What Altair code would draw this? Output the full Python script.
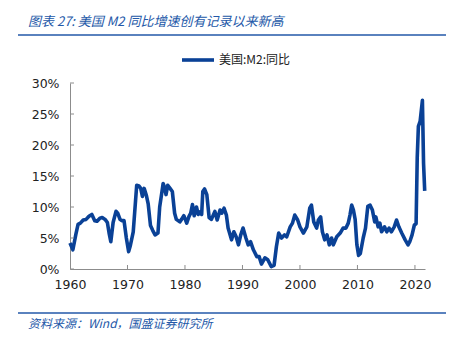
import altair as alt
import pandas as pd

# ---- data ----
years = [1960.0, 1960.5, 1961.0, 1961.4, 1961.8, 1962.3, 1962.8, 1963.3, 1963.8, 1964.3,
         1964.7, 1965.2, 1965.6, 1966.1, 1966.5, 1966.8, 1967.1, 1967.5, 1968.0, 1968.3,
         1968.7, 1969.0, 1969.4, 1969.8, 1970.2, 1970.5, 1971.0, 1971.4, 1971.6, 1972.0,
         1972.3, 1972.6, 1972.9, 1973.3, 1973.6, 1974.0, 1974.4, 1974.8, 1975.3, 1975.6,
         1976.0, 1976.2, 1976.5, 1976.7, 1977.0, 1977.4, 1977.8, 1978.2, 1978.5, 1979.1,
         1979.4, 1979.8, 1980.3, 1980.7, 1981.0, 1981.3, 1981.6, 1982.0, 1982.3, 1982.6,
         1982.9, 1983.1, 1983.4, 1983.8, 1984.2, 1984.6, 1985.2, 1985.6, 1986.1, 1986.4,
         1986.8, 1987.2, 1987.5, 1988.1, 1988.5, 1988.9, 1989.3, 1989.7, 1990.1, 1990.6,
         1991.0, 1991.4, 1991.9, 1992.5, 1992.9, 1993.3, 1993.9, 1994.4, 1995.0, 1995.5,
         1995.9, 1996.3, 1996.8, 1997.3, 1997.7, 1998.3, 1998.7, 1999.1, 1999.6, 2000.0,
         2000.6, 2001.2, 2001.7, 2002.0, 2002.4, 2002.9, 2003.2, 2003.6, 2003.9, 2004.3,
         2004.7, 2005.1, 2005.5, 2005.8, 2006.4, 2007.0, 2007.5, 2008.0, 2008.4, 2008.7,
         2009.0, 2009.3, 2009.6, 2009.9, 2010.2, 2010.5, 2011.0, 2011.4, 2011.8, 2012.2,
         2012.6, 2013.0, 2013.2, 2013.6, 2013.9, 2014.2, 2014.7, 2015.1, 2015.5, 2015.9,
         2016.4, 2016.8, 2017.2, 2017.7, 2018.3, 2018.8, 2019.1, 2019.5, 2019.9, 2020.2,
         2020.4, 2020.6, 2020.9, 2021.1, 2021.3, 2021.5, 2021.7]
m2_yoy = [4.2, 3.1, 5.5, 7.2, 7.4, 7.9, 8.0, 8.5, 8.8, 7.8,
          7.7, 8.2, 8.3, 8.0, 7.5, 5.8, 4.4, 7.5, 9.3, 9.0,
          8.0, 7.8, 7.8, 5.0, 2.8, 3.8, 6.0, 11.0, 13.5, 13.4,
          13.0, 11.7, 13.0, 11.8, 10.5, 7.0, 6.2, 5.5, 5.8, 10.0,
          12.5, 13.8, 13.0, 12.0, 13.5, 13.0, 12.5, 9.0, 8.0, 7.6,
          8.0, 8.6, 7.4, 8.5, 9.0, 10.4, 8.6, 10.0, 8.8, 9.2,
          8.8, 12.5, 12.9, 12.0, 8.3, 8.0, 9.3, 7.9, 9.5, 9.0,
          9.8, 8.7, 6.6, 4.7, 6.0, 5.2, 3.9, 5.5, 6.6, 5.0,
          3.9, 4.4, 3.1, 2.0, 2.0, 0.8, 1.8, 1.5, 0.4, 0.6,
          3.6, 5.8, 5.0, 5.5, 5.2, 6.8, 7.4, 8.7, 7.9, 6.8,
          5.8, 6.8, 9.8, 10.3, 7.6, 6.6, 7.9, 8.4, 6.0, 4.7,
          5.5, 3.9, 5.0, 3.9, 5.2, 5.8, 6.6, 6.6, 7.4, 8.7,
          10.3, 9.5, 8.0, 3.9, 2.2, 2.5, 5.0, 6.6, 10.1, 10.3,
          9.5, 7.6, 8.4, 6.8, 7.4, 6.0, 6.8, 6.0, 6.6, 6.0,
          6.8, 7.9, 6.8, 5.8, 4.7, 3.9, 4.4, 5.5, 7.1, 7.3,
          18.0, 23.0, 23.8, 25.5, 27.2, 17.0, 12.6]

x_ticks = [1960, 1970, 1980, 1990, 2000, 2010, 2020]
y_ticks = [0, 5, 10, 15, 20, 25, 30]
series_name = "美国:M2:同比"
title_text = "图表 27:  美国 M2 同比增速创有记录以来新高"
source_text = "资料来源：Wind，国盛证券研究所"

W, H = 355, 186
LINE_COLOR = "#0a4196"
BLUE = "#2358a8"
AXIS_GRAY = "#8c8c8c"

df = pd.DataFrame({"year": years, "value": m2_yoy})
xscale = alt.Scale(domain=[1960, 2021.75], nice=False, zero=False)
yscale = alt.Scale(domain=[0, 30], nice=False)

xaxis = alt.Axis(values=x_ticks, format="d", title=None, grid=False, ticks=False,
                 domainColor=AXIS_GRAY, domainWidth=1, labelPadding=9,
                 labelFontSize=12.5, labelFont="DejaVu Sans", labelColor="#222222",
                 labelFlush=False, labelOverlap=False)
yaxis = alt.Axis(values=y_ticks, labelExpr="datum.value + '%'", title=None, grid=False,
                 ticks=False, domainColor=AXIS_GRAY, domainWidth=1, labelPadding=11,
                 labelFontSize=12.5, labelFont="DejaVu Sans", labelColor="#222222",
                 labelOverlap=False, labelFlush=False, labelBound=False)

line = alt.Chart(df).mark_line(color=LINE_COLOR, strokeWidth=3.6, strokeJoin="round").encode(
    x=alt.X("year:Q", scale=xscale, axis=xaxis),
    y=alt.Y("value:Q", scale=yscale, axis=yaxis),
)

xt = alt.Chart(pd.DataFrame({"t": x_ticks[1:]})).mark_rule(color=AXIS_GRAY, strokeWidth=1).encode(
    x=alt.X("t:Q", scale=xscale, axis=xaxis), y=alt.value(H), y2=alt.value(H - 4))
yt = alt.Chart(pd.DataFrame({"t": y_ticks})).mark_rule(color=AXIS_GRAY, strokeWidth=1).encode(
    y=alt.Y("t:Q", scale=yscale, axis=yaxis), x=alt.value(0), x2=alt.value(4))

title = alt.Chart(pd.DataFrame({"s": [title_text]})).mark_text(
    align="left", baseline="middle", font="Noto Sans CJK SC", fontStyle="italic",
    fontSize=13, fontWeight="normal", color=BLUE).encode(text="s:N", x=alt.value(-42), y=alt.value(-61))
top_rule = alt.Chart(pd.DataFrame({"a": [0]})).mark_rule(color=BLUE, strokeWidth=1.6).encode(
    x=alt.value(-52), x2=alt.value(376), y=alt.value(-48))
bot_rule = alt.Chart(pd.DataFrame({"a": [0]})).mark_rule(color=BLUE, strokeWidth=1.6).encode(
    x=alt.value(-52), x2=alt.value(376), y=alt.value(230))
source = alt.Chart(pd.DataFrame({"s": [source_text]})).mark_text(
    align="left", baseline="middle", font="Noto Sans CJK SC", fontStyle="italic",
    fontSize=12, color=BLUE).encode(text="s:N", x=alt.value(-42), y=alt.value(241))

leg_line = alt.Chart(pd.DataFrame({"a": [0]})).mark_rule(color=LINE_COLOR, strokeWidth=3.6).encode(
    x=alt.value(112), x2=alt.value(144), y=alt.value(-23))
leg_text = alt.Chart(pd.DataFrame({"s": [series_name]})).mark_text(
    align="left", baseline="middle", font="Noto Sans CJK SC", fontSize=12,
    color="#222222").encode(text="s:N", x=alt.value(149), y=alt.value(-23))

chart = alt.layer(line, xt, yt, title, top_rule, bot_rule, source, leg_line, leg_text).properties(
    width=W, height=H,
    autosize=alt.AutoSizeParams(type="none"),
    padding={"left": 70, "top": 83, "right": 32, "bottom": 74},
    background="white",
).configure_view(stroke=None)

chart.save("out.html", embed_options={"renderer": "svg", "actions": False})
